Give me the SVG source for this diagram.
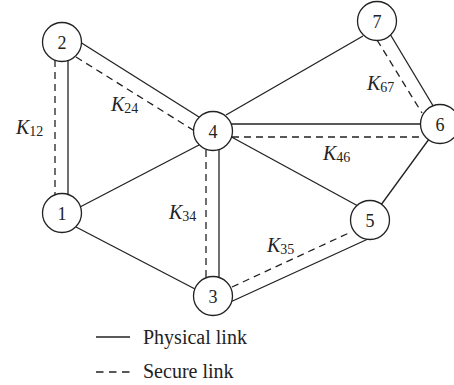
<svg xmlns="http://www.w3.org/2000/svg" width="454" height="385" viewBox="0 0 454 385">
<style>
.l{stroke:#222;stroke-width:1.3;fill:none}
.d{stroke:#222;stroke-width:1.3;fill:none;stroke-dasharray:7 5}
.n{fill:#fff;stroke:#222;stroke-width:1.3}
.t{font-family:"Liberation Serif",serif;font-size:18px;fill:#222}
.k{font-family:"Liberation Serif",serif;font-size:20px;font-style:italic;fill:#222}
.s{font-size:14px;font-style:normal}
.g{font-family:"Liberation Serif",serif;font-size:20px;fill:#222}
</style>
<rect width="454" height="385" fill="#fff"/>
<g id="connectors">
<line class="l" x1="68" y1="42" x2="68" y2="213"/>
<line class="d" x1="55" y1="60" x2="55" y2="196"/>
<line class="l" x1="80" y1="42" x2="199" y2="117"/>
<line class="d" x1="76" y1="57" x2="193" y2="130"/>
<line class="l" x1="199" y1="145" x2="80" y2="207"/>
<line class="d" x1="206" y1="150" x2="206" y2="278"/>
<line class="l" x1="219" y1="131" x2="219" y2="296"/>
<line class="l" x1="76" y1="227" x2="195" y2="289"/>
<line class="l" x1="226" y1="115" x2="363" y2="36"/>
<line class="l" x1="387" y1="29" x2="435" y2="109"/>
<line class="d" x1="377" y1="40" x2="422" y2="113"/>
<line class="l" x1="213" y1="124" x2="440" y2="124"/>
<line class="d" x1="232" y1="137" x2="421" y2="137"/>
<line class="l" x1="226" y1="134" x2="358" y2="206"/>
<line class="l" x1="440" y1="124" x2="370" y2="220"/>
<line class="l" x1="226" y1="304" x2="368" y2="239"/>
<line class="d" x1="232" y1="287" x2="351" y2="232"/>
</g>
<g id="n1"><circle class="n" cx="62" cy="213" r="19.5"/><text class="t" x="62" y="219.5" text-anchor="middle">1</text></g>
<g id="n2"><circle class="n" cx="62" cy="42" r="19.5"/><text class="t" x="62" y="48.5" text-anchor="middle">2</text></g>
<g id="n3"><circle class="n" cx="213" cy="296" r="19.5"/><text class="t" x="213" y="302.5" text-anchor="middle">3</text></g>
<g id="n4"><circle class="n" cx="213" cy="131" r="19.5"/><text class="t" x="213" y="137.5" text-anchor="middle">4</text></g>
<g id="n5"><circle class="n" cx="370" cy="220" r="19.5"/><text class="t" x="370" y="226.5" text-anchor="middle">5</text></g>
<g id="n6"><circle class="n" cx="440" cy="124" r="19.5"/><text class="t" x="440" y="130.5" text-anchor="middle">6</text></g>
<g id="n7"><circle class="n" cx="377" cy="21" r="19.5"/><text class="t" x="377" y="27.5" text-anchor="middle">7</text></g>
<g id="labels">
<text class="k" x="16" y="134">K<tspan class="s" dy="2">12</tspan></text>
<text class="k" x="111" y="111">K<tspan class="s" dy="2">24</tspan></text>
<text class="k" x="169" y="219">K<tspan class="s" dy="2">34</tspan></text>
<text class="k" x="367" y="90">K<tspan class="s" dy="2">67</tspan></text>
<text class="k" x="323" y="160">K<tspan class="s" dy="2">46</tspan></text>
<text class="k" x="267" y="252">K<tspan class="s" dy="2">35</tspan></text>
</g>
<g id="legend">
<line class="l" x1="96" y1="337" x2="130" y2="337"/>
<text class="g" x="143" y="344">Physical link</text>
<line class="d" x1="96" y1="372" x2="130" y2="372" style="stroke-dasharray:7.5 5.5"/>
<text class="g" x="143" y="378">Secure link</text>
</g>
</svg>
